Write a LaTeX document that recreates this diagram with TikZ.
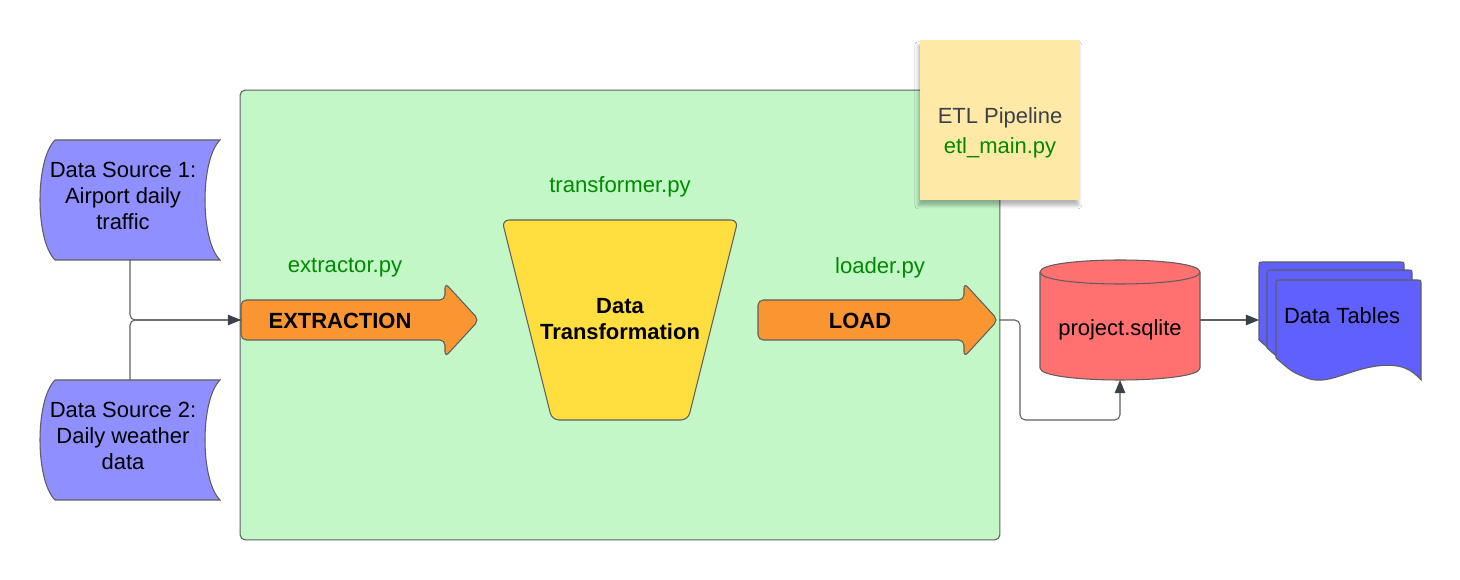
\documentclass[tikz,border=0pt]{standalone}
\usepackage{fontspec}
\setmainfont{Liberation Sans}
\usetikzlibrary{arrows.meta,shadows.blur}
\definecolor{dsblue}{RGB}{143,143,255}
\definecolor{tblue}{RGB}{96,96,255}
\definecolor{boxgreen}{RGB}{195,247,200}
\definecolor{orangeA}{RGB}{250,150,50}
\definecolor{yellowT}{RGB}{255,223,64}
\definecolor{stickyY}{RGB}{254,233,166}
\definecolor{cylred}{RGB}{255,112,112}
\definecolor{codegreen}{RGB}{0,138,0}
\definecolor{linegray}{RGB}{94,94,94}
\definecolor{tipgray}{RGB}{58,65,74}
\definecolor{notetext}{RGB}{58,65,74}
\begin{document}
\begin{tikzpicture}[x=0.02cm,y=-0.02cm,
  shapeline/.style={draw=linegray,line width=0.6pt},
  lbl/.style={font=\fontsize{12.6}{15}\selectfont,text=codegreen,inner sep=0pt},
  body/.style={font=\fontsize{12.5}{14.7}\selectfont,align=center,inner sep=0pt},
  boldlbl/.style={font=\fontsize{12.5}{15.3}\selectfont\bfseries,align=center,inner sep=0pt},
  conn/.style={draw=linegray,line width=0.6pt,rounded corners=3pt},
  tipped/.style={-{Triangle[length=7.5pt,width=6pt,fill=tipgray,color=tipgray]}},
  anchorbox/.style={inner sep=0pt,outer sep=0pt}]
\useasboundingbox (0,0) rectangle (1460,580);
\fill[white] (0,0) rectangle (1460,580);

% ETL container
\node[anchorbox,fill=boxgreen,draw=linegray,line width=0.6pt,rounded corners=3pt,
      minimum width=15.2cm,minimum height=9cm] (etl) at (620,315) {};

% sticky note
\node[anchorbox,fill=stickyY,minimum width=3.2cm,minimum height=3.2cm,
      blur shadow={shadow xshift=-1pt,shadow yshift=-3pt,shadow blur radius=2pt,shadow opacity=30}] (note) at (1000,120) {};
\node[body,text=notetext,font=\fontsize{12.5}{17}\selectfont] (notetxt) at (1000,133) {ETL Pipeline\\\textcolor{codegreen}{etl\_main.py}};

% labels
\node[lbl] (extlbl) at (345,268) {extractor.py};
\node[lbl] (trlbl) at (620,187) {transformer.py};
\node[lbl] (loadlbl) at (880,268) {loader.py};

% data sources
\filldraw[shapeline,fill=dsblue] (55,140) -- (220,140) .. controls (200,160) and (200,240) .. (220,260)
   -- (55,260) .. controls (35,240) and (35,160) .. (55,140) -- cycle;
\filldraw[shapeline,fill=dsblue] (55,380) -- (220,380) .. controls (200,400) and (200,480) .. (220,500)
   -- (55,500) .. controls (35,480) and (35,400) .. (55,380) -- cycle;
\node[anchorbox,minimum width=3.6cm,minimum height=2.4cm] (ds1) at (130,200) {};
\node[anchorbox,minimum width=3.6cm,minimum height=2.4cm] (ds2) at (130,440) {};
\node[body] (ds1txt) at (123,196) {Data Source 1:\\Airport daily\\traffic};
\node[body] (ds2txt) at (123,436) {Data Source 2:\\Daily weather\\data};

% extraction arrow
\filldraw[shapeline,fill=orangeA,rounded corners=3pt] (241,300) -- (445,300) -- (445,283) -- (479,320)
   -- (445,357) -- (445,340) -- (241,340) -- cycle;
\coordinate (extin) at (241,320);
\node[boldlbl] (ext) at (340,321) {EXTRACTION};

% transformation trapezoid
\filldraw[shapeline,fill=yellowT,rounded corners=4pt] (502,220) -- (738,220) -- (688,420) -- (552,420) -- cycle;
\node[boldlbl] (trans) at (620,319) {Data\\Transformation};

% load arrow
\filldraw[shapeline,fill=orangeA,rounded corners=3pt] (758,300) -- (964,300) -- (964,283) -- (998,320)
   -- (964,357) -- (964,340) -- (758,340) -- cycle;
\coordinate (loadtip) at (999,320);
\node[boldlbl] (load) at (860,321) {LOAD};

% cylinder
\filldraw[shapeline,fill=cylred] (1040,272) -- (1040,368) .. controls (1040,384) and (1200,384) .. (1200,368)
   -- (1200,272) .. controls (1200,256) and (1040,256) .. (1040,272) -- cycle;
\draw[shapeline] (1040,272) .. controls (1040,288) and (1200,288) .. (1200,272);
\node[anchorbox,minimum width=3.2cm,minimum height=2.16cm] (cyl) at (1120,326) {};
\node[body] (cyltxt) at (1120,330) {project.sqlite};

% data tables (stacked documents)
\foreach \dx/\dy in {0/0,8/8,17/18}{
  \filldraw[shapeline,fill=tblue] ({1259+\dx},{340+\dy}) -- ({1259+\dx},{266+\dy})
     .. controls ({1259+\dx},{262+\dy}) .. ({1263+\dx},{262+\dy}) -- ({1400+\dx},{262+\dy})
     .. controls ({1404+\dx},{262+\dy}) .. ({1404+\dx},{266+\dy}) -- ({1404+\dx},{362+\dy})
     .. controls ({1395+\dx},{352+\dy}) and ({1385+\dx},{345+\dy}) .. ({1360+\dx},{348+\dy})
     .. controls ({1330+\dx},{352+\dy}) and ({1310+\dx},{368+\dy}) .. ({1290+\dx},{360+\dy})
     .. controls ({1275+\dx},{354+\dy}) .. ({1259+\dx},{340+\dy}) -- cycle;
}
\node[anchorbox,minimum width=3.24cm,minimum height=2.4cm] (tables) at (1340,320) {};
\node[body] (tabtxt) at (1342,316) {Data Tables};

% connectors
\draw[conn] (ds1.south) |- (extin);
\draw[conn,tipped] (ds2.north) |- (extin);
\draw[conn,tipped] (loadtip) -- (1020,320) -- (1020,420) -- (1120,420) -- (cyl.south);
\draw[conn,tipped] (cyl.east |- tables.west) -- (tables.west);
\end{tikzpicture}
\end{document}
